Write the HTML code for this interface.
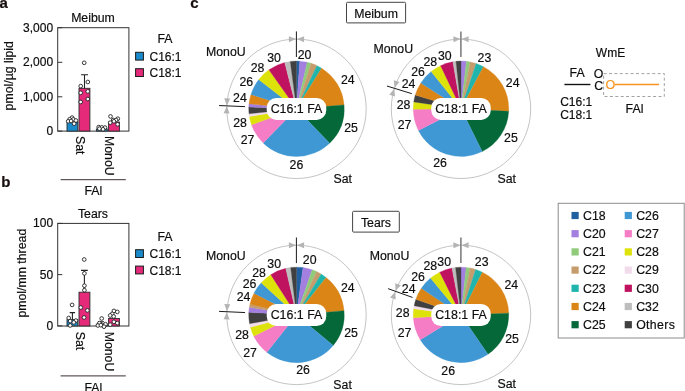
<!DOCTYPE html>
<html><head><meta charset="utf-8"><title>Figure</title>
<style>
html,body{margin:0;padding:0;background:#fff;}
body{width:685px;height:391px;overflow:hidden;}
svg{display:block;font-family:"Liberation Sans",sans-serif;}
text{stroke:#0d0d0d;stroke-width:0.18px;}
</style></head><body>
<svg width="685" height="391" viewBox="0 0 685 391">
<rect width="685" height="391" fill="#fff"/>
<text x="-0.60" y="7.80" font-size="15" text-anchor="start" font-weight="bold" fill="#1a0f0f">a</text>
<text x="1.20" y="187.00" font-size="15" text-anchor="start" font-weight="bold" fill="#1a0f0f">b</text>
<text x="190.20" y="7.90" font-size="15" text-anchor="start" font-weight="bold" fill="#1a0f0f">c</text>
<rect x="57.7" y="27.7" width="71.20" height="103.40" fill="none" stroke="#333" stroke-width="1"/>
<text x="93.00" y="22.30" font-size="12.3" text-anchor="middle" fill="#0d0d0d">Meibum</text>
<line x1="57.7" y1="27.7" x2="62.300000000000004" y2="27.7" stroke="#333" stroke-width="1"/>
<text x="53.10" y="31.50" font-size="12.0" text-anchor="end" fill="#0d0d0d">3,000</text>
<line x1="57.7" y1="62.3" x2="62.300000000000004" y2="62.3" stroke="#333" stroke-width="1"/>
<text x="53.10" y="66.30" font-size="12.0" text-anchor="end" fill="#0d0d0d">2,000</text>
<line x1="57.7" y1="96.8" x2="62.300000000000004" y2="96.8" stroke="#333" stroke-width="1"/>
<text x="53.10" y="100.90" font-size="12.0" text-anchor="end" fill="#0d0d0d">1,000</text>
<line x1="57.7" y1="131.1" x2="62.300000000000004" y2="131.1" stroke="#333" stroke-width="1"/>
<text x="53.10" y="135.00" font-size="12.0" text-anchor="end" fill="#0d0d0d">0</text>
<path d="M81.0,74.8 H88.0 M84.5,74.8 V100" stroke="#222" stroke-width="1.1" fill="none"/>
<rect x="67.0" y="122.0" width="10.80" height="9.10" fill="#1B8ACB" stroke="#2a2a2a" stroke-width="0.9"/>
<rect x="79.0" y="88.3" width="10.90" height="42.80" fill="#E52A7A" stroke="#2a2a2a" stroke-width="0.9"/>
<rect x="96.4" y="129.0" width="10.90" height="2.10" fill="#1B8ACB" stroke="#2a2a2a" stroke-width="0.9"/>
<rect x="108.6" y="122.0" width="10.80" height="9.10" fill="#E52A7A" stroke="#2a2a2a" stroke-width="0.9"/>
<circle cx="84.2" cy="62.8" r="1.85" fill="#fff" stroke="#222" stroke-width="0.9"/>
<circle cx="87.8" cy="82" r="1.85" fill="#fff" stroke="#222" stroke-width="0.9"/>
<circle cx="80.7" cy="86.1" r="1.85" fill="#fff" stroke="#222" stroke-width="0.9"/>
<circle cx="80.7" cy="92.8" r="1.85" fill="#fff" stroke="#222" stroke-width="0.9"/>
<circle cx="87.8" cy="91.4" r="1.85" fill="#fff" stroke="#222" stroke-width="0.9"/>
<circle cx="87.8" cy="99" r="1.85" fill="#fff" stroke="#222" stroke-width="0.9"/>
<circle cx="80.7" cy="102" r="1.85" fill="#fff" stroke="#222" stroke-width="0.9"/>
<circle cx="72.1" cy="117.6" r="1.85" fill="#fff" stroke="#222" stroke-width="0.9"/>
<circle cx="69.7" cy="119.2" r="1.85" fill="#fff" stroke="#222" stroke-width="0.9"/>
<circle cx="73.3" cy="119.4" r="1.85" fill="#fff" stroke="#222" stroke-width="0.9"/>
<circle cx="68.2" cy="121.3" r="1.85" fill="#fff" stroke="#222" stroke-width="0.9"/>
<circle cx="71.1" cy="121" r="1.85" fill="#fff" stroke="#222" stroke-width="0.9"/>
<circle cx="75.9" cy="120.5" r="1.85" fill="#fff" stroke="#222" stroke-width="0.9"/>
<circle cx="74.1" cy="123.7" r="1.85" fill="#fff" stroke="#222" stroke-width="0.9"/>
<circle cx="98.7" cy="127.1" r="1.85" fill="#fff" stroke="#222" stroke-width="0.9"/>
<circle cx="101.8" cy="127.4" r="1.85" fill="#fff" stroke="#222" stroke-width="0.9"/>
<circle cx="105" cy="127.6" r="1.85" fill="#fff" stroke="#222" stroke-width="0.9"/>
<circle cx="103" cy="129.3" r="1.85" fill="#fff" stroke="#222" stroke-width="0.9"/>
<circle cx="99.4" cy="128.7" r="1.85" fill="#fff" stroke="#222" stroke-width="0.9"/>
<circle cx="110.5" cy="116.4" r="1.85" fill="#fff" stroke="#222" stroke-width="0.9"/>
<circle cx="117.8" cy="118.7" r="1.85" fill="#fff" stroke="#222" stroke-width="0.9"/>
<circle cx="113.2" cy="120" r="1.85" fill="#fff" stroke="#222" stroke-width="0.9"/>
<circle cx="116.1" cy="120" r="1.85" fill="#fff" stroke="#222" stroke-width="0.9"/>
<circle cx="113.9" cy="121.3" r="1.85" fill="#fff" stroke="#222" stroke-width="0.9"/>
<circle cx="110.2" cy="122.7" r="1.85" fill="#fff" stroke="#222" stroke-width="0.9"/>
<circle cx="117.6" cy="124.3" r="1.85" fill="#fff" stroke="#222" stroke-width="0.9"/>
<text transform="translate(75.6,136.00) rotate(90)" font-size="12.3" fill="#0d0d0d">Sat</text>
<text transform="translate(105.3,136.00) rotate(90)" font-size="12.3" fill="#0d0d0d">MonoU</text>
<line x1="60.6" y1="179.7" x2="125.8" y2="179.7" stroke="#3a3030" stroke-width="1"/>
<text x="93.30" y="194.90" font-size="12.3" text-anchor="middle" fill="#0d0d0d">FAl</text>
<text transform="translate(13.2,75.8) rotate(-90)" font-size="12.3" text-anchor="middle" fill="#0d0d0d">pmol/µg lipid</text>
<text x="165.00" y="43.20" font-size="12.3" text-anchor="middle" fill="#0d0d0d">FA</text>
<rect x="135.6" y="52.30" width="7.8" height="7.8" fill="#1B8ACB" stroke="#1a1a1a" stroke-width="1"/>
<text x="149.50" y="60.80" font-size="12.0" text-anchor="start" fill="#0d0d0d">C16:1</text>
<rect x="135.6" y="68.70" width="7.8" height="7.8" fill="#E52A7A" stroke="#1a1a1a" stroke-width="1"/>
<text x="149.50" y="77.30" font-size="12.0" text-anchor="start" fill="#0d0d0d">C18:1</text>
<rect x="57.7" y="223.4" width="71.20" height="102.60" fill="none" stroke="#333" stroke-width="1"/>
<text x="93.00" y="218.00" font-size="12.3" text-anchor="middle" fill="#0d0d0d">Tears</text>
<line x1="57.7" y1="223.4" x2="62.300000000000004" y2="223.4" stroke="#333" stroke-width="1"/>
<text x="53.10" y="226.90" font-size="12.0" text-anchor="end" fill="#0d0d0d">100</text>
<line x1="57.7" y1="274.6" x2="62.300000000000004" y2="274.6" stroke="#333" stroke-width="1"/>
<text x="53.10" y="278.50" font-size="12.0" text-anchor="end" fill="#0d0d0d">50</text>
<line x1="57.7" y1="325.9" x2="62.300000000000004" y2="325.9" stroke="#333" stroke-width="1"/>
<text x="53.10" y="329.70" font-size="12.0" text-anchor="end" fill="#0d0d0d">0</text>
<path d="M69.7,312.6 H75.10000000000001 M72.4,312.6 V322" stroke="#222" stroke-width="1.1" fill="none"/>
<path d="M81.0,270.4 H87.80000000000001 M84.4,270.4 V300" stroke="#222" stroke-width="1.1" fill="none"/>
<path d="M99.4,321.8 H104.0 M101.7,321.8 V325" stroke="#222" stroke-width="1.1" fill="none"/>
<rect x="67.0" y="319.6" width="10.80" height="6.40" fill="#1B8ACB" stroke="#2a2a2a" stroke-width="0.9"/>
<rect x="79.0" y="292.2" width="10.90" height="33.80" fill="#E52A7A" stroke="#2a2a2a" stroke-width="0.9"/>
<rect x="96.4" y="324.2" width="10.90" height="1.80" fill="#1B8ACB" stroke="#2a2a2a" stroke-width="0.9"/>
<rect x="108.6" y="318.5" width="10.80" height="7.50" fill="#E52A7A" stroke="#2a2a2a" stroke-width="0.9"/>
<circle cx="84.2" cy="259.5" r="1.85" fill="#fff" stroke="#222" stroke-width="0.9"/>
<circle cx="84.4" cy="273.4" r="1.85" fill="#fff" stroke="#222" stroke-width="0.9"/>
<circle cx="84.4" cy="285.7" r="1.85" fill="#fff" stroke="#222" stroke-width="0.9"/>
<circle cx="84.4" cy="290.2" r="1.85" fill="#fff" stroke="#222" stroke-width="0.9"/>
<circle cx="80.8" cy="307.5" r="1.85" fill="#fff" stroke="#222" stroke-width="0.9"/>
<circle cx="87.4" cy="310.4" r="1.85" fill="#fff" stroke="#222" stroke-width="0.9"/>
<circle cx="84.1" cy="317.5" r="1.85" fill="#fff" stroke="#222" stroke-width="0.9"/>
<circle cx="72.1" cy="304.9" r="1.85" fill="#fff" stroke="#222" stroke-width="0.9"/>
<circle cx="68.7" cy="318" r="1.85" fill="#fff" stroke="#222" stroke-width="0.9"/>
<circle cx="70.2" cy="321.1" r="1.85" fill="#fff" stroke="#222" stroke-width="0.9"/>
<circle cx="75.9" cy="320.6" r="1.85" fill="#fff" stroke="#222" stroke-width="0.9"/>
<circle cx="73.8" cy="322.4" r="1.85" fill="#fff" stroke="#222" stroke-width="0.9"/>
<circle cx="70.2" cy="325.5" r="1.85" fill="#fff" stroke="#222" stroke-width="0.9"/>
<circle cx="101.7" cy="318.5" r="1.85" fill="#fff" stroke="#222" stroke-width="0.9"/>
<circle cx="99.4" cy="323.1" r="1.85" fill="#fff" stroke="#222" stroke-width="0.9"/>
<circle cx="97.9" cy="325.5" r="1.85" fill="#fff" stroke="#222" stroke-width="0.9"/>
<circle cx="100.9" cy="325.2" r="1.85" fill="#fff" stroke="#222" stroke-width="0.9"/>
<circle cx="104.5" cy="325.2" r="1.85" fill="#fff" stroke="#222" stroke-width="0.9"/>
<circle cx="105.5" cy="324.2" r="1.85" fill="#fff" stroke="#222" stroke-width="0.9"/>
<circle cx="104" cy="326.7" r="1.85" fill="#fff" stroke="#222" stroke-width="0.9"/>
<circle cx="113.9" cy="310.9" r="1.85" fill="#fff" stroke="#222" stroke-width="0.9"/>
<circle cx="117.3" cy="311.9" r="1.85" fill="#fff" stroke="#222" stroke-width="0.9"/>
<circle cx="112.2" cy="313.9" r="1.85" fill="#fff" stroke="#222" stroke-width="0.9"/>
<circle cx="110.2" cy="315.5" r="1.85" fill="#fff" stroke="#222" stroke-width="0.9"/>
<circle cx="113.7" cy="316.5" r="1.85" fill="#fff" stroke="#222" stroke-width="0.9"/>
<circle cx="113.9" cy="321.8" r="1.85" fill="#fff" stroke="#222" stroke-width="0.9"/>
<circle cx="117.3" cy="323.1" r="1.85" fill="#fff" stroke="#222" stroke-width="0.9"/>
<circle cx="110.2" cy="324.7" r="1.85" fill="#fff" stroke="#222" stroke-width="0.9"/>
<text transform="translate(75.6,331.70) rotate(90)" font-size="12.3" fill="#0d0d0d">Sat</text>
<text transform="translate(105.3,331.70) rotate(90)" font-size="12.3" fill="#0d0d0d">MonoU</text>
<line x1="60.6" y1="375.9" x2="125.8" y2="375.9" stroke="#3a3030" stroke-width="1"/>
<text x="93.30" y="391.80" font-size="12.3" text-anchor="middle" fill="#0d0d0d">FAl</text>
<text transform="translate(25.6,273.2) rotate(-90)" font-size="12.3" text-anchor="middle" fill="#0d0d0d">pmol/mm thread</text>
<text x="165.00" y="240.60" font-size="12.3" text-anchor="middle" fill="#0d0d0d">FA</text>
<rect x="135.6" y="249.70" width="7.8" height="7.8" fill="#1B8ACB" stroke="#1a1a1a" stroke-width="1"/>
<text x="149.50" y="258.20" font-size="12.0" text-anchor="start" fill="#0d0d0d">C16:1</text>
<rect x="135.6" y="266.10" width="7.8" height="7.8" fill="#E52A7A" stroke="#1a1a1a" stroke-width="1"/>
<text x="149.50" y="274.70" font-size="12.0" text-anchor="start" fill="#0d0d0d">C18:1</text>
<rect x="346.5" y="2.3" width="59.1" height="20.6" rx="1" fill="#fff" stroke="#444" stroke-width="1"/>
<text x="376.10" y="17.60" font-size="12.3" text-anchor="middle" fill="#0d0d0d">Meibum</text>
<rect x="352.6" y="211.3" width="46.7" height="20.8" rx="1" fill="#fff" stroke="#444" stroke-width="1"/>
<text x="376.00" y="226.60" font-size="12.3" text-anchor="middle" fill="#0d0d0d">Tears</text>
<circle cx="296.5" cy="108.8" r="69.7" fill="none" stroke="#9c9c9c" stroke-width="0.6"/>
<path d="M296.50,108.80 L296.50,61.05 A47.75,47.75 0 0 1 299.79,61.16 Z" fill="#1F5FA0" stroke="#1F5FA0" stroke-width="0.3"/>
<path d="M296.50,108.80 L299.79,61.16 A47.75,47.75 0 0 1 307.28,62.28 Z" fill="#A37FE0" stroke="#A37FE0" stroke-width="0.3"/>
<path d="M296.50,108.80 L307.28,62.28 A47.75,47.75 0 0 1 311.14,63.35 Z" fill="#90CB7C" stroke="#90CB7C" stroke-width="0.3"/>
<path d="M296.50,108.80 L311.14,63.35 A47.75,47.75 0 0 1 316.94,65.65 Z" fill="#C69C6D" stroke="#C69C6D" stroke-width="0.3"/>
<path d="M296.50,108.80 L316.94,65.65 A47.75,47.75 0 0 1 321.59,68.17 Z" fill="#1FB5AD" stroke="#1FB5AD" stroke-width="0.3"/>
<path d="M296.50,108.80 L321.59,68.17 A47.75,47.75 0 0 1 344.09,104.89 Z" fill="#DB8517" stroke="#DB8517" stroke-width="0.3"/>
<path d="M296.50,108.80 L344.09,104.89 A47.75,47.75 0 0 1 329.61,143.21 Z" fill="#056839" stroke="#056839" stroke-width="0.3"/>
<path d="M296.50,108.80 L329.61,143.21 A47.75,47.75 0 0 1 263.15,142.97 Z" fill="#3F98D3" stroke="#3F98D3" stroke-width="0.3"/>
<path d="M296.50,108.80 L263.15,142.97 A47.75,47.75 0 0 1 251.49,124.74 Z" fill="#F47DC6" stroke="#F47DC6" stroke-width="0.3"/>
<path d="M296.50,108.80 L251.49,124.74 A47.75,47.75 0 0 1 249.38,116.52 Z" fill="#DEE20B" stroke="#DEE20B" stroke-width="0.3"/>
<path d="M296.50,108.80 L249.38,116.52 A47.75,47.75 0 0 1 249.01,113.79 Z" fill="#F2DCEC" stroke="#F2DCEC" stroke-width="0.3"/>
<path d="M296.50,108.80 L249.01,113.79 A47.75,47.75 0 0 1 248.79,106.97 Z" fill="#404040" stroke="#404040" stroke-width="0.3"/>
<path d="M296.50,108.80 L248.79,106.97 A47.75,47.75 0 0 1 249.01,103.81 Z" fill="#A37FE0" stroke="#A37FE0" stroke-width="0.3"/>
<path d="M296.50,108.80 L249.01,103.81 A47.75,47.75 0 0 1 250.96,94.44 Z" fill="#DB8517" stroke="#DB8517" stroke-width="0.3"/>
<path d="M296.50,108.80 L250.96,94.44 A47.75,47.75 0 0 1 258.72,79.60 Z" fill="#3F98D3" stroke="#3F98D3" stroke-width="0.3"/>
<path d="M296.50,108.80 L258.72,79.60 A47.75,47.75 0 0 1 268.91,69.83 Z" fill="#DEE20B" stroke="#DEE20B" stroke-width="0.3"/>
<path d="M296.50,108.80 L268.91,69.83 A47.75,47.75 0 0 1 284.71,62.53 Z" fill="#C0135F" stroke="#C0135F" stroke-width="0.3"/>
<path d="M296.50,108.80 L284.71,62.53 A47.75,47.75 0 0 1 290.27,61.46 Z" fill="#BDBDBD" stroke="#BDBDBD" stroke-width="0.3"/>
<path d="M296.50,108.80 L290.27,61.46 A47.75,47.75 0 0 1 296.50,61.05 Z" fill="#404040" stroke="#404040" stroke-width="0.3"/>
<rect x="266.75" y="97.90" width="59.5" height="22" rx="9.5" fill="#fff"/>
<text x="296.50" y="113.34" font-size="12.4" text-anchor="middle" fill="#0d0d0d">C16:1 FA</text>
<line x1="296.40" y1="31.40" x2="296.40" y2="57.00" stroke="#000" stroke-width="0.9"/>
<polygon points="296.01,39.10 288.89,36.15 288.93,42.15" fill="#b4b4b4"/>
<polygon points="296.99,39.10 304.11,36.15 304.07,42.15" fill="#b4b4b4"/>
<line x1="245.05" y1="106.64" x2="219.07" y2="105.55" stroke="#000" stroke-width="0.9"/>
<polygon points="226.88,105.40 224.23,98.16 230.23,98.45" fill="#b4b4b4"/>
<polygon points="226.84,106.37 223.60,113.36 229.59,113.57" fill="#b4b4b4"/>
<text x="225.80" y="55.60" font-size="12.3" text-anchor="middle" fill="#0d0d0d">MonoU</text>
<text x="274.00" y="62.40" font-size="12.3" text-anchor="middle" fill="#0d0d0d">30</text>
<text x="304.50" y="59.30" font-size="12.3" text-anchor="middle" fill="#0d0d0d">20</text>
<text x="257.50" y="72.40" font-size="12.3" text-anchor="middle" fill="#0d0d0d">28</text>
<text x="246.30" y="86.20" font-size="12.3" text-anchor="middle" fill="#0d0d0d">26</text>
<text x="239.90" y="101.75" font-size="12.3" text-anchor="middle" fill="#0d0d0d">24</text>
<text x="347.80" y="83.70" font-size="12.3" text-anchor="middle" fill="#0d0d0d">24</text>
<text x="351.10" y="131.90" font-size="12.3" text-anchor="middle" fill="#0d0d0d">25</text>
<text x="296.40" y="168.50" font-size="12.3" text-anchor="middle" fill="#0d0d0d">26</text>
<text x="247.50" y="144.10" font-size="12.3" text-anchor="middle" fill="#0d0d0d">27</text>
<text x="240.10" y="127.10" font-size="12.3" text-anchor="middle" fill="#0d0d0d">28</text>
<text x="342.70" y="183.40" font-size="12.3" text-anchor="middle" fill="#0d0d0d">Sat</text>
<circle cx="461.0" cy="108.8" r="69.7" fill="none" stroke="#9c9c9c" stroke-width="0.6"/>
<path d="M461.00,108.80 L461.00,61.05 A47.75,47.75 0 0 1 466.49,61.37 Z" fill="#A37FE0" stroke="#A37FE0" stroke-width="0.3"/>
<path d="M461.00,108.80 L466.49,61.37 A47.75,47.75 0 0 1 470.11,61.93 Z" fill="#90CB7C" stroke="#90CB7C" stroke-width="0.3"/>
<path d="M461.00,108.80 L470.11,61.93 A47.75,47.75 0 0 1 476.15,63.52 Z" fill="#C69C6D" stroke="#C69C6D" stroke-width="0.3"/>
<path d="M461.00,108.80 L476.15,63.52 A47.75,47.75 0 0 1 483.42,66.64 Z" fill="#1FB5AD" stroke="#1FB5AD" stroke-width="0.3"/>
<path d="M461.00,108.80 L483.42,66.64 A47.75,47.75 0 0 1 508.68,111.30 Z" fill="#DB8517" stroke="#DB8517" stroke-width="0.3"/>
<path d="M461.00,108.80 L508.68,111.30 A47.75,47.75 0 0 1 482.16,151.61 Z" fill="#056839" stroke="#056839" stroke-width="0.3"/>
<path d="M461.00,108.80 L482.16,151.61 A47.75,47.75 0 0 1 418.42,130.40 Z" fill="#3F98D3" stroke="#3F98D3" stroke-width="0.3"/>
<path d="M461.00,108.80 L418.42,130.40 A47.75,47.75 0 0 1 413.25,109.13 Z" fill="#F47DC6" stroke="#F47DC6" stroke-width="0.3"/>
<path d="M461.00,108.80 L413.25,109.13 A47.75,47.75 0 0 1 413.75,101.91 Z" fill="#DEE20B" stroke="#DEE20B" stroke-width="0.3"/>
<path d="M461.00,108.80 L413.75,101.91 A47.75,47.75 0 0 1 415.26,95.08 Z" fill="#404040" stroke="#404040" stroke-width="0.3"/>
<path d="M461.00,108.80 L415.26,95.08 A47.75,47.75 0 0 1 420.82,83.00 Z" fill="#DB8517" stroke="#DB8517" stroke-width="0.3"/>
<path d="M461.00,108.80 L420.82,83.00 A47.75,47.75 0 0 1 431.14,71.53 Z" fill="#3F98D3" stroke="#3F98D3" stroke-width="0.3"/>
<path d="M461.00,108.80 L431.14,71.53 A47.75,47.75 0 0 1 440.59,65.63 Z" fill="#DEE20B" stroke="#DEE20B" stroke-width="0.3"/>
<path d="M461.00,108.80 L440.59,65.63 A47.75,47.75 0 0 1 452.87,61.75 Z" fill="#C0135F" stroke="#C0135F" stroke-width="0.3"/>
<path d="M461.00,108.80 L452.87,61.75 A47.75,47.75 0 0 1 456.01,61.31 Z" fill="#BDBDBD" stroke="#BDBDBD" stroke-width="0.3"/>
<path d="M461.00,108.80 L456.01,61.31 A47.75,47.75 0 0 1 461.00,61.05 Z" fill="#404040" stroke="#404040" stroke-width="0.3"/>
<rect x="431.25" y="97.90" width="59.5" height="22" rx="9.5" fill="#fff"/>
<text x="461.00" y="113.34" font-size="12.4" text-anchor="middle" fill="#0d0d0d">C18:1 FA</text>
<line x1="460.90" y1="31.40" x2="460.90" y2="57.00" stroke="#777" stroke-width="1.5"/>
<polygon points="460.51,39.10 453.39,36.15 453.43,42.15" fill="#b4b4b4"/>
<polygon points="461.49,39.10 468.61,36.15 468.57,42.15" fill="#b4b4b4"/>
<line x1="411.78" y1="93.66" x2="386.93" y2="86.01" stroke="#000" stroke-width="0.9"/>
<polygon points="394.53,87.84 393.80,80.17 399.52,81.97" fill="#b4b4b4"/>
<polygon points="394.24,88.77 389.33,94.71 395.07,96.43" fill="#b4b4b4"/>
<text x="393.25" y="52.70" font-size="12.3" text-anchor="middle" fill="#0d0d0d">MonoU</text>
<text x="484.40" y="61.70" font-size="12.3" text-anchor="middle" fill="#0d0d0d">23</text>
<text x="512.70" y="87.00" font-size="12.3" text-anchor="middle" fill="#0d0d0d">24</text>
<text x="510.90" y="142.00" font-size="12.3" text-anchor="middle" fill="#0d0d0d">25</text>
<text x="440.00" y="166.90" font-size="12.3" text-anchor="middle" fill="#0d0d0d">26</text>
<text x="404.50" y="128.80" font-size="12.3" text-anchor="middle" fill="#0d0d0d">27</text>
<text x="403.50" y="109.20" font-size="12.3" text-anchor="middle" fill="#0d0d0d">28</text>
<text x="408.60" y="88.00" font-size="12.3" text-anchor="middle" fill="#0d0d0d">24</text>
<text x="418.00" y="76.40" font-size="12.3" text-anchor="middle" fill="#0d0d0d">26</text>
<text x="430.30" y="66.20" font-size="12.3" text-anchor="middle" fill="#0d0d0d">28</text>
<text x="444.80" y="60.10" font-size="12.3" text-anchor="middle" fill="#0d0d0d">30</text>
<text x="506.80" y="182.80" font-size="12.3" text-anchor="middle" fill="#0d0d0d">Sat</text>
<circle cx="296.5" cy="314.9" r="69.7" fill="none" stroke="#9c9c9c" stroke-width="0.6"/>
<path d="M296.50,314.90 L296.50,267.15 A47.75,47.75 0 0 1 303.06,267.60 Z" fill="#1F5FA0" stroke="#1F5FA0" stroke-width="0.3"/>
<path d="M296.50,314.90 L303.06,267.60 A47.75,47.75 0 0 1 312.28,269.83 Z" fill="#A37FE0" stroke="#A37FE0" stroke-width="0.3"/>
<path d="M296.50,314.90 L312.28,269.83 A47.75,47.75 0 0 1 316.60,271.59 Z" fill="#90CB7C" stroke="#90CB7C" stroke-width="0.3"/>
<path d="M296.50,314.90 L316.60,271.59 A47.75,47.75 0 0 1 321.16,274.01 Z" fill="#C69C6D" stroke="#C69C6D" stroke-width="0.3"/>
<path d="M296.50,314.90 L321.16,274.01 A47.75,47.75 0 0 1 326.09,277.43 Z" fill="#1FB5AD" stroke="#1FB5AD" stroke-width="0.3"/>
<path d="M296.50,314.90 L326.09,277.43 A47.75,47.75 0 0 1 344.06,310.66 Z" fill="#DB8517" stroke="#DB8517" stroke-width="0.3"/>
<path d="M296.50,314.90 L344.06,310.66 A47.75,47.75 0 0 1 333.24,345.40 Z" fill="#056839" stroke="#056839" stroke-width="0.3"/>
<path d="M296.50,314.90 L333.24,345.40 A47.75,47.75 0 0 1 266.84,352.32 Z" fill="#3F98D3" stroke="#3F98D3" stroke-width="0.3"/>
<path d="M296.50,314.90 L266.84,352.32 A47.75,47.75 0 0 1 253.73,336.13 Z" fill="#F47DC6" stroke="#F47DC6" stroke-width="0.3"/>
<path d="M296.50,314.90 L253.73,336.13 A47.75,47.75 0 0 1 250.36,327.18 Z" fill="#DEE20B" stroke="#DEE20B" stroke-width="0.3"/>
<path d="M296.50,314.90 L250.36,327.18 A47.75,47.75 0 0 1 249.58,323.77 Z" fill="#F2DCEC" stroke="#F2DCEC" stroke-width="0.3"/>
<path d="M296.50,314.90 L249.58,323.77 A47.75,47.75 0 0 1 248.82,312.32 Z" fill="#404040" stroke="#404040" stroke-width="0.3"/>
<path d="M296.50,314.90 L248.82,312.32 A47.75,47.75 0 0 1 249.36,307.27 Z" fill="#A37FE0" stroke="#A37FE0" stroke-width="0.3"/>
<path d="M296.50,314.90 L249.36,307.27 A47.75,47.75 0 0 1 249.96,304.24 Z" fill="#C69C6D" stroke="#C69C6D" stroke-width="0.3"/>
<path d="M296.50,314.90 L249.96,304.24 A47.75,47.75 0 0 1 253.99,293.15 Z" fill="#DB8517" stroke="#DB8517" stroke-width="0.3"/>
<path d="M296.50,314.90 L253.99,293.15 A47.75,47.75 0 0 1 261.18,282.76 Z" fill="#3F98D3" stroke="#3F98D3" stroke-width="0.3"/>
<path d="M296.50,314.90 L261.18,282.76 A47.75,47.75 0 0 1 270.77,274.67 Z" fill="#DEE20B" stroke="#DEE20B" stroke-width="0.3"/>
<path d="M296.50,314.90 L270.77,274.67 A47.75,47.75 0 0 1 285.76,268.37 Z" fill="#C0135F" stroke="#C0135F" stroke-width="0.3"/>
<path d="M296.50,314.90 L285.76,268.37 A47.75,47.75 0 0 1 290.68,267.51 Z" fill="#BDBDBD" stroke="#BDBDBD" stroke-width="0.3"/>
<path d="M296.50,314.90 L290.68,267.51 A47.75,47.75 0 0 1 296.50,267.15 Z" fill="#404040" stroke="#404040" stroke-width="0.3"/>
<rect x="266.75" y="304.00" width="59.5" height="22" rx="9.5" fill="#fff"/>
<text x="296.50" y="319.44" font-size="12.4" text-anchor="middle" fill="#0d0d0d">C16:1 FA</text>
<line x1="296.40" y1="237.50" x2="296.40" y2="263.10" stroke="#000" stroke-width="0.9"/>
<polygon points="296.01,245.20 288.89,242.25 288.93,248.25" fill="#b4b4b4"/>
<polygon points="296.99,245.20 304.11,242.25 304.07,248.25" fill="#b4b4b4"/>
<line x1="245.05" y1="312.56" x2="219.08" y2="311.38" stroke="#000" stroke-width="0.9"/>
<polygon points="226.90,311.25 224.27,304.00 230.26,304.32" fill="#b4b4b4"/>
<polygon points="226.85,312.22 223.58,319.20 229.58,319.43" fill="#b4b4b4"/>
<text x="225.80" y="259.90" font-size="12.3" text-anchor="middle" fill="#0d0d0d">MonoU</text>
<text x="274.20" y="267.80" font-size="12.3" text-anchor="middle" fill="#0d0d0d">30</text>
<text x="309.70" y="264.00" font-size="12.3" text-anchor="middle" fill="#0d0d0d">20</text>
<text x="259.00" y="277.00" font-size="12.3" text-anchor="middle" fill="#0d0d0d">28</text>
<text x="249.50" y="288.40" font-size="12.3" text-anchor="middle" fill="#0d0d0d">26</text>
<text x="243.50" y="300.90" font-size="12.3" text-anchor="middle" fill="#0d0d0d">24</text>
<text x="347.80" y="291.80" font-size="12.3" text-anchor="middle" fill="#0d0d0d">24</text>
<text x="351.10" y="336.80" font-size="12.3" text-anchor="middle" fill="#0d0d0d">25</text>
<text x="303.00" y="374.40" font-size="12.3" text-anchor="middle" fill="#0d0d0d">26</text>
<text x="250.00" y="357.40" font-size="12.3" text-anchor="middle" fill="#0d0d0d">27</text>
<text x="242.00" y="339.40" font-size="12.3" text-anchor="middle" fill="#0d0d0d">28</text>
<text x="342.60" y="389.40" font-size="12.3" text-anchor="middle" fill="#0d0d0d">Sat</text>
<circle cx="461.0" cy="314.9" r="69.7" fill="none" stroke="#9c9c9c" stroke-width="0.6"/>
<path d="M461.00,314.90 L461.00,267.15 A47.75,47.75 0 0 1 466.24,267.44 Z" fill="#A37FE0" stroke="#A37FE0" stroke-width="0.3"/>
<path d="M461.00,314.90 L466.24,267.44 A47.75,47.75 0 0 1 470.11,268.03 Z" fill="#90CB7C" stroke="#90CB7C" stroke-width="0.3"/>
<path d="M461.00,314.90 L470.11,268.03 A47.75,47.75 0 0 1 475.60,269.44 Z" fill="#C69C6D" stroke="#C69C6D" stroke-width="0.3"/>
<path d="M461.00,314.90 L475.60,269.44 A47.75,47.75 0 0 1 482.38,272.20 Z" fill="#1FB5AD" stroke="#1FB5AD" stroke-width="0.3"/>
<path d="M461.00,314.90 L482.38,272.20 A47.75,47.75 0 0 1 508.72,313.23 Z" fill="#DB8517" stroke="#DB8517" stroke-width="0.3"/>
<path d="M461.00,314.90 L508.72,313.23 A47.75,47.75 0 0 1 487.91,354.35 Z" fill="#056839" stroke="#056839" stroke-width="0.3"/>
<path d="M461.00,314.90 L487.91,354.35 A47.75,47.75 0 0 1 420.24,339.78 Z" fill="#3F98D3" stroke="#3F98D3" stroke-width="0.3"/>
<path d="M461.00,314.90 L420.24,339.78 A47.75,47.75 0 0 1 413.33,317.73 Z" fill="#F47DC6" stroke="#F47DC6" stroke-width="0.3"/>
<path d="M461.00,314.90 L413.33,317.73 A47.75,47.75 0 0 1 413.65,308.75 Z" fill="#DEE20B" stroke="#DEE20B" stroke-width="0.3"/>
<path d="M461.00,314.90 L413.65,308.75 A47.75,47.75 0 0 1 414.14,305.71 Z" fill="#F2DCEC" stroke="#F2DCEC" stroke-width="0.3"/>
<path d="M461.00,314.90 L414.14,305.71 A47.75,47.75 0 0 1 415.85,299.35 Z" fill="#404040" stroke="#404040" stroke-width="0.3"/>
<path d="M461.00,314.90 L415.85,299.35 A47.75,47.75 0 0 1 421.32,288.34 Z" fill="#DB8517" stroke="#DB8517" stroke-width="0.3"/>
<path d="M461.00,314.90 L421.32,288.34 A47.75,47.75 0 0 1 430.56,278.11 Z" fill="#3F98D3" stroke="#3F98D3" stroke-width="0.3"/>
<path d="M461.00,314.90 L430.56,278.11 A47.75,47.75 0 0 1 439.77,272.13 Z" fill="#DEE20B" stroke="#DEE20B" stroke-width="0.3"/>
<path d="M461.00,314.90 L439.77,272.13 A47.75,47.75 0 0 1 451.97,268.01 Z" fill="#C0135F" stroke="#C0135F" stroke-width="0.3"/>
<path d="M461.00,314.90 L451.97,268.01 A47.75,47.75 0 0 1 455.59,267.46 Z" fill="#BDBDBD" stroke="#BDBDBD" stroke-width="0.3"/>
<path d="M461.00,314.90 L455.59,267.46 A47.75,47.75 0 0 1 461.00,267.15 Z" fill="#404040" stroke="#404040" stroke-width="0.3"/>
<rect x="431.25" y="304.00" width="59.5" height="22" rx="9.5" fill="#fff"/>
<text x="461.00" y="319.44" font-size="12.4" text-anchor="middle" fill="#0d0d0d">C18:1 FA</text>
<line x1="460.90" y1="237.50" x2="460.90" y2="263.10" stroke="#777" stroke-width="1.5"/>
<polygon points="460.51,245.20 453.39,242.25 453.43,248.25" fill="#b4b4b4"/>
<polygon points="461.49,245.20 468.61,242.25 468.57,248.25" fill="#b4b4b4"/>
<line x1="412.54" y1="297.45" x2="388.08" y2="288.65" stroke="#000" stroke-width="0.9"/>
<polygon points="395.59,290.83 395.22,283.13 400.85,285.21" fill="#b4b4b4"/>
<polygon points="395.26,291.75 390.07,297.45 395.73,299.44" fill="#b4b4b4"/>
<text x="389.50" y="259.80" font-size="12.3" text-anchor="middle" fill="#0d0d0d">MonoU</text>
<text x="481.70" y="266.10" font-size="12.3" text-anchor="middle" fill="#0d0d0d">23</text>
<text x="511.30" y="288.80" font-size="12.3" text-anchor="middle" fill="#0d0d0d">24</text>
<text x="512.10" y="342.60" font-size="12.3" text-anchor="middle" fill="#0d0d0d">25</text>
<text x="448.20" y="374.70" font-size="12.3" text-anchor="middle" fill="#0d0d0d">26</text>
<text x="404.50" y="336.90" font-size="12.3" text-anchor="middle" fill="#0d0d0d">27</text>
<text x="402.70" y="317.20" font-size="12.3" text-anchor="middle" fill="#0d0d0d">28</text>
<text x="408.70" y="292.50" font-size="12.3" text-anchor="middle" fill="#0d0d0d">24</text>
<text x="418.00" y="281.40" font-size="12.3" text-anchor="middle" fill="#0d0d0d">26</text>
<text x="430.30" y="270.00" font-size="12.3" text-anchor="middle" fill="#0d0d0d">28</text>
<text x="444.20" y="266.20" font-size="12.3" text-anchor="middle" fill="#0d0d0d">30</text>
<text x="506.80" y="388.40" font-size="12.3" text-anchor="middle" fill="#0d0d0d">Sat</text>
<text x="610.50" y="57.10" font-size="12.0" text-anchor="middle" fill="#0d0d0d">WmE</text>
<text x="577.10" y="76.60" font-size="12.3" text-anchor="middle" fill="#0d0d0d">FA</text>
<line x1="564.4" y1="84.5" x2="590.4" y2="84.5" stroke="#111" stroke-width="1.4"/>
<text x="598.60" y="77.90" font-size="12.3" text-anchor="middle" fill="#0d0d0d">O</text>
<text x="598.60" y="89.50" font-size="12.3" text-anchor="middle" fill="#0d0d0d">C</text>
<text x="610.40" y="89.47" font-size="12.5" text-anchor="middle" fill="#F7931E" style="stroke:#F7931E">O</text>
<line x1="614.8" y1="84.5" x2="659.0" y2="84.5" stroke="#F7931E" stroke-width="1.4"/>
<rect x="603.6" y="73.6" width="60.7" height="22.9" fill="none" stroke="#999" stroke-width="0.9" stroke-dasharray="3 2.4"/>
<text x="560.20" y="105.50" font-size="12.0" text-anchor="start" fill="#0d0d0d">C16:1</text>
<text x="560.20" y="119.10" font-size="12.0" text-anchor="start" fill="#0d0d0d">C18:1</text>
<text x="634.50" y="113.20" font-size="12.3" text-anchor="middle" fill="#0d0d0d">FAl</text>
<rect x="558.2" y="203.3" width="126.0" height="134.7" fill="#fff" stroke="#8c8c8c" stroke-width="1"/>
<rect x="571.5" y="211.90" width="7.2" height="7.2" fill="#1F5FA0"/>
<text x="583.00" y="219.80" font-size="12.3" text-anchor="start" fill="#0d0d0d">C18</text>
<rect x="624.7" y="211.90" width="7.2" height="7.2" fill="#3F98D3"/>
<text x="636.20" y="219.80" font-size="12.3" text-anchor="start" fill="#0d0d0d">C26</text>
<rect x="571.5" y="230.10" width="7.2" height="7.2" fill="#A37FE0"/>
<text x="583.00" y="238.00" font-size="12.3" text-anchor="start" fill="#0d0d0d">C20</text>
<rect x="624.7" y="230.10" width="7.2" height="7.2" fill="#F47DC6"/>
<text x="636.20" y="238.00" font-size="12.3" text-anchor="start" fill="#0d0d0d">C27</text>
<rect x="571.5" y="248.30" width="7.2" height="7.2" fill="#90CB7C"/>
<text x="583.00" y="256.20" font-size="12.3" text-anchor="start" fill="#0d0d0d">C21</text>
<rect x="624.7" y="248.30" width="7.2" height="7.2" fill="#DEE20B"/>
<text x="636.20" y="256.20" font-size="12.3" text-anchor="start" fill="#0d0d0d">C28</text>
<rect x="571.5" y="266.50" width="7.2" height="7.2" fill="#C69C6D"/>
<text x="583.00" y="274.40" font-size="12.3" text-anchor="start" fill="#0d0d0d">C22</text>
<rect x="624.7" y="266.50" width="7.2" height="7.2" fill="#F2DCEC"/>
<text x="636.20" y="274.40" font-size="12.3" text-anchor="start" fill="#0d0d0d">C29</text>
<rect x="571.5" y="284.70" width="7.2" height="7.2" fill="#1FB5AD"/>
<text x="583.00" y="292.60" font-size="12.3" text-anchor="start" fill="#0d0d0d">C23</text>
<rect x="624.7" y="284.70" width="7.2" height="7.2" fill="#C0135F"/>
<text x="636.20" y="292.60" font-size="12.3" text-anchor="start" fill="#0d0d0d">C30</text>
<rect x="571.5" y="302.90" width="7.2" height="7.2" fill="#DB8517"/>
<text x="583.00" y="310.80" font-size="12.3" text-anchor="start" fill="#0d0d0d">C24</text>
<rect x="624.7" y="302.90" width="7.2" height="7.2" fill="#BDBDBD"/>
<text x="636.20" y="310.80" font-size="12.3" text-anchor="start" fill="#0d0d0d">C32</text>
<rect x="571.5" y="321.10" width="7.2" height="7.2" fill="#056839"/>
<text x="583.00" y="329.00" font-size="12.3" text-anchor="start" fill="#0d0d0d">C25</text>
<rect x="624.7" y="321.10" width="7.2" height="7.2" fill="#404040"/>
<text x="636.20" y="329.00" font-size="12.3" text-anchor="start" fill="#0d0d0d" textLength="38.6" lengthAdjust="spacing">Others</text>
</svg></body></html>
